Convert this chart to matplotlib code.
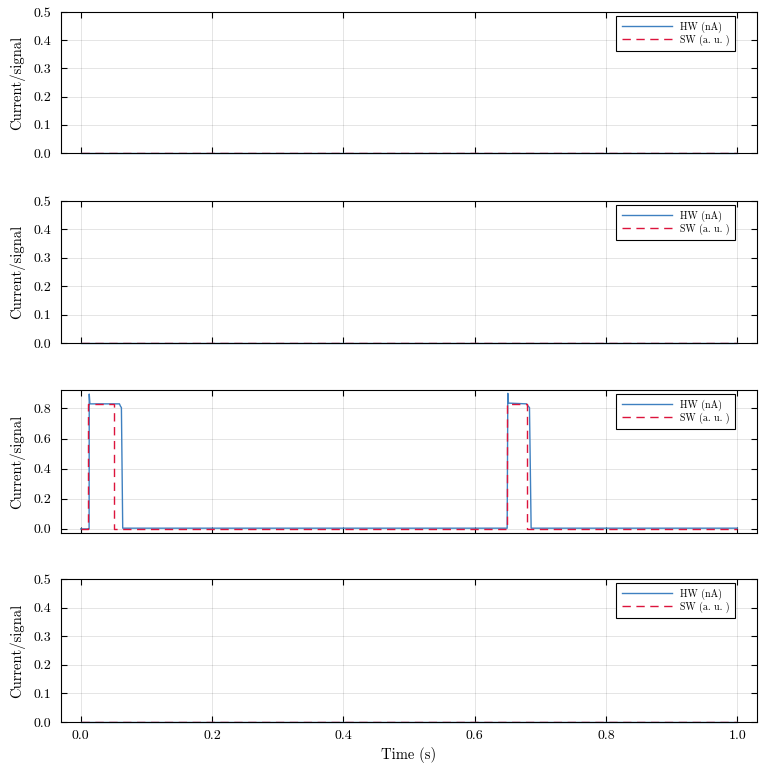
import matplotlib
matplotlib.use("Agg")
import matplotlib.pyplot as plt
import numpy as np

plt.rcParams['font.family'] = ['cmr10', 'DejaVu Serif']
plt.rcParams['axes.formatter.use_mathtext'] = True
plt.rcParams['mathtext.fontset'] = 'cm'

# Panel 3 breakpoints (time in s, value)
hw3_t = [0.0, 0.0128, 0.0130, 0.0140, 0.0590, 0.0605, 0.0620, 0.0640, 0.6495, 0.6505, 0.6515, 0.6790, 0.6815, 0.6835, 0.6860, 1.0]
hw3_v = [0.0, 0.0, 0.895, 0.830, 0.830, 0.815, 0.805, 0.005, 0.005, 0.900, 0.835, 0.830, 0.815, 0.805, 0.005, 0.005]
sw3_t = [0.0, 0.0110, 0.0110, 0.0510, 0.0510, 0.6500, 0.6500, 0.6800, 0.6800, 1.0]
sw3_v = [0.0, 0.0, 0.830, 0.830, 0.0, 0.0, 0.830, 0.830, 0.0, 0.0]

# Flat panels (all zero)
flat_t = [0.0, 1.0]
flat_v = [0.0, 0.0]

x_ticks = [0.0, 0.2, 0.4, 0.6, 0.8, 1.0]
y_ticks_flat = [0.0, 0.1, 0.2, 0.3, 0.4, 0.5]
y_ticks_3 = [0.0, 0.2, 0.4, 0.6, 0.8]

hw_color = '#3f80c0'
sw_color = '#dc143c'

W, H = 764, 768
fig = plt.figure(figsize=(W/100, H/100), dpi=100)

panels = [(12, 153), (201, 343), (390, 533), (579, 722)]
left, right = 61, 757

for i, (top, bot) in enumerate(panels):
    ax = fig.add_axes([left/W, 1 - bot/H, (right-left)/W, (bot-top)/H])
    if i == 2:
        ht, hv, st, sv = hw3_t, hw3_v, sw3_t, sw3_v
        ax.set_ylim(-0.027, 0.922)
        ax.set_yticks(y_ticks_3)
    else:
        ht, hv, st, sv = flat_t, flat_v, flat_t, flat_v
        ax.set_ylim(0, 0.5)
        ax.set_yticks(y_ticks_flat)
    ax.plot(ht, hv, color=hw_color, lw=1.0, label='HW (nA)', clip_on=False if i != 2 else True)
    ax.plot(st, sv, color=sw_color, lw=1.0, ls=(0, (6, 4)), label='SW (a. u. )')
    ax.set_xlim(-0.03, 1.03)
    ax.set_xticks(x_ticks)
    ax.yaxis.set_major_formatter(matplotlib.ticker.FormatStrFormatter('%.1f'))
    ax.xaxis.set_major_formatter(matplotlib.ticker.FormatStrFormatter('%.1f'))
    ax.grid(True, color='black', alpha=0.12, lw=0.6)
    ax.tick_params(direction='in', top=True, right=True, length=4.5, width=0.8,
                   labelsize=10, pad=7)
    for s in ax.spines.values():
        s.set_linewidth(0.8)
    ax.set_ylabel('Current/signal', fontsize=10.5, labelpad=6)
    if i < 3:
        ax.tick_params(labelbottom=False)
    else:
        ax.tick_params(axis='x', pad=6)
        ax.set_xlabel('Time (s)', fontsize=10.5, labelpad=3)
    leg = ax.legend(loc='upper right', fontsize=7.2, frameon=True, fancybox=False,
                    edgecolor='black', framealpha=1, handlelength=5.0,
                    borderpad=0.55, labelspacing=0.15, handletextpad=0.8,
                    bbox_to_anchor=(0.968, 0.972), borderaxespad=0)
    leg.get_frame().set_linewidth(0.8)

fig.savefig('out.png', dpi=100)
